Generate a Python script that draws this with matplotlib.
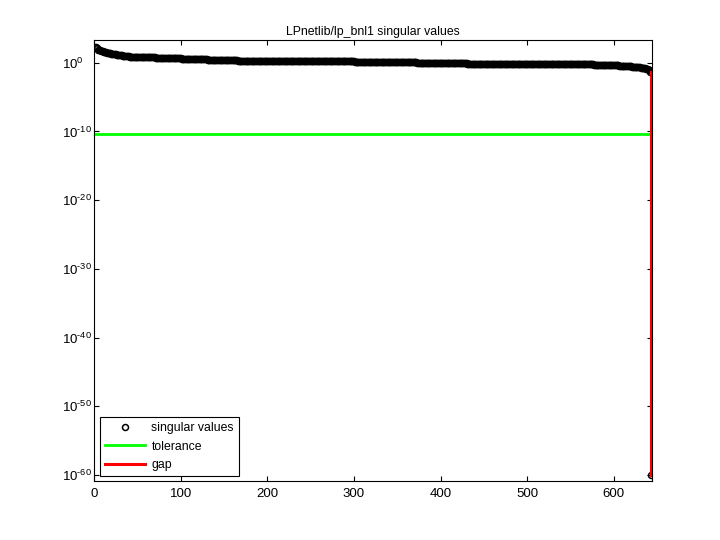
import numpy as np
import matplotlib
matplotlib.use("Agg")
import matplotlib.pyplot as plt

plt.rcParams['font.family'] = ['Liberation Sans', 'DejaVu Sans']
plt.rcParams['font.size'] = 8.8
plt.rcParams['mathtext.fontset'] = 'custom'
plt.rcParams['mathtext.rm'] = 'Liberation Sans'

# singular values (log10 level, number of points)
sv_log10 = [2.28, 2.1, 1.9, 1.75, 1.6, 1.45, 1.3, 1.15, 1.0,
            0.85, 0.72, 0.55, 0.42, 0.32, 0.24, 0.18, 0.0, -0.15, -0.24,
            -0.32, -0.45, -0.6, -0.78, -0.95, -1.12, -1.36, -60.0]
sv_count = [2, 2, 3, 3, 4, 5, 6, 7, 8,
            30, 30, 30, 35, 55, 80, 72, 58, 70, 76,
            29, 15, 10, 6, 3, 2, 1, 1]
tolerance = 10 ** -10.35
rank = 642

sv = 10.0 ** np.repeat(sv_log10, sv_count)
idx = np.arange(1, len(sv) + 1)

xticks = [0, 100, 200, 300, 400, 500, 600]
yexp = [0, -10, -20, -30, -40, -50, -60]

fig = plt.figure(figsize=(7.2, 5.4), dpi=100)
ax = fig.add_axes([0.1306, 0.109, 0.775, 0.8167])

ax.semilogy(idx, sv, 'ko', mfc='none', ms=4.3, mew=1.1, label='singular values')
ax.semilogy([1, len(sv)], [tolerance, tolerance], color=(0, 1, 0), lw=2, label='tolerance')
ax.semilogy([rank + 1, rank + 1], [sv[rank - 1], sv[rank]], color=(1, 0, 0), lw=2.2, label='gap')

ax.set_xlim(0, 644)
ax.set_ylim(10 ** -60.9, 10 ** 3.3)
ax.set_xticks(xticks)
ax.set_yticks([10.0 ** e for e in yexp])
ax.set_yticklabels([r'$\mathregular{10^{%s}}$' % (r'\text{-}%d' % -e if e < 0 else '0') for e in yexp])
ax.minorticks_off()
ax.tick_params(direction='in', length=3.6, width=0.8, top=True, right=True, labelsize=9.5, pad=5)
ax.tick_params(axis='y', pad=23)
for lbl in ax.get_yticklabels():
    lbl.set_horizontalalignment('left')
for s in ax.spines.values():
    s.set_linewidth(0.8)

ax.set_title('LPnetlib/lp_bnl1 singular values', fontsize=8.8, pad=3.5)

leg = ax.legend(loc='lower left', bbox_to_anchor=(0.0108, 0.0113), borderaxespad=0,
                numpoints=1, handlelength=3.3, handletextpad=0.5, labelspacing=0.55,
                fancybox=False, edgecolor='black', framealpha=1, fontsize=8.8)
leg.get_frame().set_linewidth(0.8)

fig.savefig('out.png', dpi=100, facecolor='white')
